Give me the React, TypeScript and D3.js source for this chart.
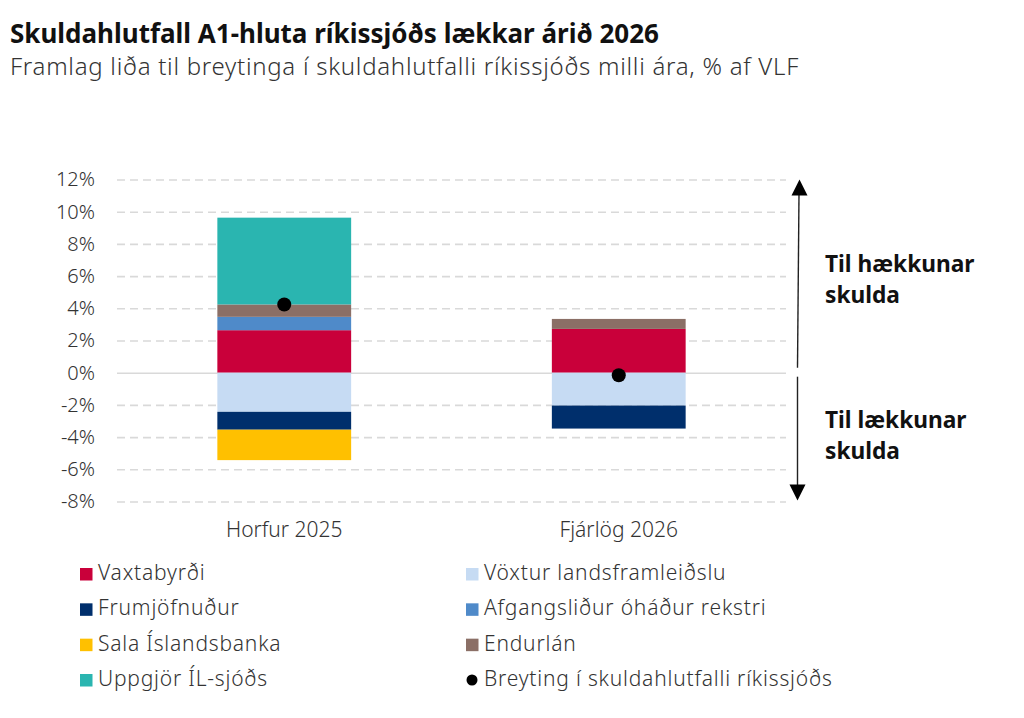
import * as d3 from "d3";
import { useEffect, useRef } from "react";

const categories = ["Horfur 2025", "Fjárlög 2026"];
const seriesNames = [
  "Vaxtabyrði",
  "Vöxtur landsframleiðslu",
  "Frumjöfnuður",
  "Afgangsliður óháður rekstri",
  "Sala Íslandsbanka",
  "Endurlán",
  "Uppgjör ÍL-sjóðs",
];
const seriesColors = ["#c9003a", "#c6dbf3", "#002f6c", "#4f8ac9", "#ffc000", "#8b6f66", "#2ab5b0"];
const vaxtabyrdi = [2.64, 2.72];
const voxtur = [-2.43, -2.04];
const frumjofnudur = [-1.11, -1.43];
const afgangslidur = [0.83, 0];
const salaIslandsbanka = [-1.89, 0];
const endurlan = [0.77, 0.62];
const uppgjor = [5.39, 0];
const breyting = [4.24, -0.16];
const yTicks = [-8, -6, -4, -2, 0, 2, 4, 6, 8, 10, 12];
const dotLabel = "Breyting í skuldahlutfalli ríkissjóðs";

const seriesValues = [vaxtabyrdi, voxtur, frumjofnudur, afgangslidur, salaIslandsbanka, endurlan, uppgjor];

const width = 1024;
const height = 718;
const font = "'Noto Sans', sans-serif";

export default function App() {
  const svgRef = useRef<SVGSVGElement>(null);

  useEffect(() => {
    if (!svgRef.current) return;
    const svg = d3.select(svgRef.current);
    svg.selectAll("*").remove();

    const x = d3
      .scaleBand()
      .domain(categories)
      .range([117, 786])
      .paddingInner(0.6)
      .paddingOuter(0.3);
    const y = d3.scaleLinear().domain([-8, 12]).range([501.5, 179.5]);

    // Titles
    svg
      .append("text")
      .attr("x", 10)
      .attr("y", 43)
      .attr("font-size", 26)
      .attr("font-weight", 700)
      .attr("fill", "#111")
      .text("Skuldahlutfall A1-hluta ríkissjóðs lækkar árið 2026");
    svg
      .append("text")
      .attr("x", 10)
      .attr("y", 75)
      .attr("font-size", 24)
      .attr("font-weight", 300)
      .attr("letter-spacing", 0.73)
      .attr("fill", "#333")
      .text("Framlag liða til breytinga í skuldahlutfalli ríkissjóðs milli ára, % af VLF");

    // Y axis with the gridlines
    const yAxis = svg
      .append("g")
      .attr("transform", "translate(117,0)")
      .call(
        d3
          .axisLeft(y)
          .tickValues(yTicks)
          .tickSize(-669)
          .tickPadding(22)
          .tickFormat((d) => `${d}%`)
      );
    yAxis.select(".domain").remove();
    yAxis
      .selectAll(".tick line")
      .attr("stroke", "#d9d9d9")
      .attr("stroke-width", 1.6)
      .attr("stroke-dasharray", (d) => (d === 0 ? null : "8 5"));
    yAxis
      .selectAll("text")
      .attr("font-family", font)
      .attr("font-size", 20)
      .attr("font-weight", 300)
      .attr("fill", "#333");

    // Stacked bars, positive and negative parts grow out from zero
    const bars = svg.append("g");
    categories.forEach((cat, i) => {
      let up = 0;
      let down = 0;
      seriesValues.forEach((vals, s) => {
        const v = vals[i];
        if (v === 0) return;
        const start = v > 0 ? up : down;
        const end = start + v;
        if (v > 0) up = end;
        else down = end;
        bars
          .append("rect")
          .attr("x", x(cat)!)
          .attr("width", x.bandwidth())
          .attr("y", Math.min(y(start), y(end)))
          .attr("height", Math.abs(y(start) - y(end)))
          .attr("fill", seriesColors[s]);
      });
    });

    // Change in debt ratio
    svg
      .append("g")
      .selectAll("circle")
      .data(categories)
      .join("circle")
      .attr("cx", (d) => x(d)! + x.bandwidth() / 2)
      .attr("cy", (_, i) => y(breyting[i]))
      .attr("r", 7)
      .attr("fill", "#000");

    // X labels
    svg
      .append("g")
      .selectAll("text")
      .data(categories)
      .join("text")
      .attr("x", (d) => x(d)! + x.bandwidth() / 2)
      .attr("y", 536.5)
      .attr("text-anchor", "middle")
      .attr("font-size", 21)
      .attr("font-weight", 300)
      .attr("fill", "#333")
      .text((d) => d);

    // Arrows on the right
    svg
      .append("line")
      .attr("x1", 797.5)
      .attr("x2", 799)
      .attr("y1", y(0) - 5)
      .attr("y2", y(12) + 14)
      .attr("stroke", "#222")
      .attr("stroke-width", 1.4);
    svg
      .append("path")
      .attr("d", d3.line()([[791.5, y(12) + 16], [807.5, y(12) + 16], [799.5, y(12)]]) + "Z")
      .attr("fill", "#000");
    svg
      .append("line")
      .attr("x1", 797.5)
      .attr("x2", 797.5)
      .attr("y1", y(0) + 4)
      .attr("y2", y(-8) - 14)
      .attr("stroke", "#222")
      .attr("stroke-width", 1.4);
    svg
      .append("path")
      .attr("d", d3.line()([[789.5, y(-8) - 17], [805.5, y(-8) - 17], [797.5, y(-8) - 1]]) + "Z")
      .attr("fill", "#000");

    const notes = [
      ["Til hækkunar", 272],
      ["skulda", 303],
      ["Til lækkunar", 428],
      ["skulda", 459],
    ] as const;
    svg
      .append("g")
      .selectAll("text")
      .data(notes)
      .join("text")
      .attr("x", 825)
      .attr("y", (d) => d[1])
      .attr("font-size", 22.7)
      .attr("font-weight", 700)
      .attr("fill", "#111")
      .text((d) => d[0]);

    // Legend, two columns filled row by row
    const rowY = d3.scalePoint<number>().domain([0, 1, 2, 3]).range([574, 680]);
    const colX = [80, 466];
    const legend = svg.append("g");
    seriesNames.forEach((name, s) => {
      const col = s % 2;
      const row = Math.floor(s / 2);
      const cy = rowY(row)!;
      legend
        .append("rect")
        .attr("x", colX[col])
        .attr("y", cy - 6)
        .attr("width", 12.5)
        .attr("height", 12.5)
        .attr("fill", seriesColors[s]);
      legend
        .append("text")
        .attr("x", colX[col] + 18)
        .attr("y", cy + 6)
        .attr("font-size", 21)
        .attr("font-weight", 300)
        .attr("fill", "#333")
        .attr("letter-spacing", 0.8)
        .text(name);
    });
    legend
      .append("circle")
      .attr("cx", colX[1] + 6)
      .attr("cy", rowY(3)!)
      .attr("r", 5.5)
      .attr("fill", "#000");
    legend
      .append("text")
      .attr("x", colX[1] + 18)
      .attr("y", rowY(3)! + 6)
      .attr("font-size", 21)
      .attr("font-weight", 300)
      .attr("fill", "#333")
      .attr("letter-spacing", 0.8)
      .text(dotLabel);
  }, []);

  return (
    <svg
      ref={svgRef}
      width={width}
      height={height}
      fontFamily={font}
      style={{ position: "absolute", left: 0, top: 0, background: "#fff" }}
    />
  );
}
